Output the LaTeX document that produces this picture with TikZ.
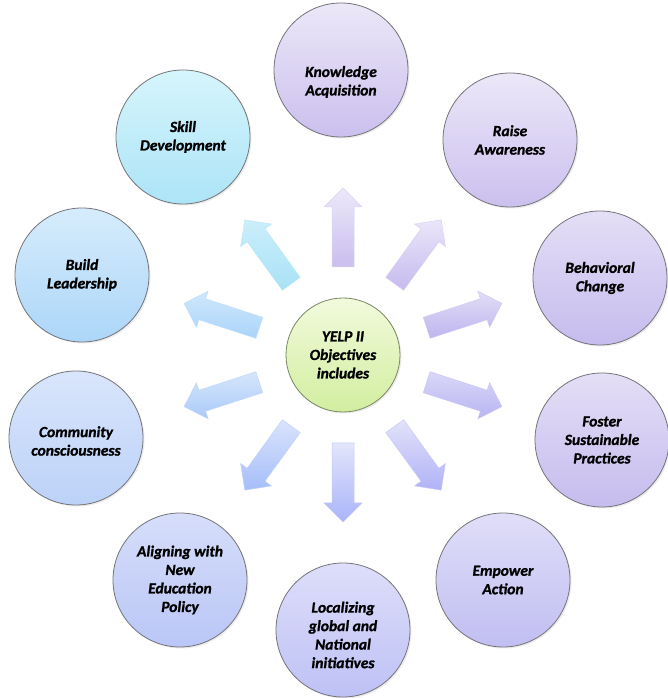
\documentclass[tikz,border=0pt]{standalone}
\usepackage{fontspec}
\newfontfamily\carlito{Carlito}[BoldItalicFont={Carlito Bold Italic}, BoldFont={Carlito Bold}, BoldItalicFeatures={FakeBold=1.2}]
\usetikzlibrary{calc,shadows}
\definecolor{bordergray}{RGB}{115,115,120}
\definecolor{lavT}{RGB}{236,231,248}
\definecolor{lavB}{RGB}{203,192,238}
\definecolor{lav2T}{RGB}{228,222,246}
\definecolor{lav2B}{RGB}{198,188,238}
\definecolor{lav3T}{RGB}{224,222,248}
\definecolor{lav3B}{RGB}{193,190,242}
\definecolor{locT}{RGB}{222,222,250}
\definecolor{locB}{RGB}{190,193,245}
\definecolor{aliT}{RGB}{214,222,250}
\definecolor{aliB}{RGB}{186,198,246}
\definecolor{comT}{RGB}{217,229,251}
\definecolor{comB}{RGB}{188,210,248}
\definecolor{bldT}{RGB}{214,236,252}
\definecolor{bldB}{RGB}{172,214,248}
\definecolor{sklT}{RGB}{214,245,252}
\definecolor{sklB}{RGB}{172,228,247}
\definecolor{ctrT}{RGB}{242,250,220}
\definecolor{ctrB}{RGB}{210,238,160}
\definecolor{ctrBorder}{RGB}{120,135,100}
% arrow colours
\definecolor{aKaT}{RGB}{236,232,249}\definecolor{aKaB}{RGB}{202,190,238}
\definecolor{aRaT}{RGB}{234,230,249}\definecolor{aRaB}{RGB}{198,186,238}
\definecolor{aBcT}{RGB}{226,222,247}\definecolor{aBcB}{RGB}{190,180,238}
\definecolor{aFsT}{RGB}{218,216,248}\definecolor{aFsB}{RGB}{184,180,242}
\definecolor{aEaT}{RGB}{226,226,250}\definecolor{aEaB}{RGB}{176,178,246}
\definecolor{aLoT}{RGB}{226,229,251}\definecolor{aLoB}{RGB}{170,180,250}
\definecolor{aAlT}{RGB}{218,227,251}\definecolor{aAlB}{RGB}{165,190,250}
\definecolor{aCoT}{RGB}{214,230,251}\definecolor{aCoB}{RGB}{170,202,250}
\definecolor{aBlT}{RGB}{208,232,252}\definecolor{aBlB}{RGB}{170,212,250}
\definecolor{aSkT}{RGB}{204,238,251}\definecolor{aSkB}{RGB}{168,226,246}
\tikzset{
  labelfont/.style={font=\carlito\bfseries\itshape\fontsize{15.5}{18.5}\selectfont},
  outer/.style={circle, minimum size=134pt, inner sep=0pt, draw=bordergray, line width=0.8pt,
    align=center, labelfont,
    drop shadow={opacity=0.15, shadow xshift=1.5pt, shadow yshift=-1.5pt}},
  centre/.style={circle, minimum size=114pt, inner sep=0pt, draw=ctrBorder, line width=0.8pt,
    align=center, top color=ctrT, bottom color=ctrB, labelfont,
    drop shadow={opacity=0.15, shadow xshift=1.5pt, shadow yshift=-1.5pt}},
  caption/.style={align=center, labelfont, inner sep=0pt}
}
\begin{document}
\begin{tikzpicture}[x=1pt,y=1pt]
\useasboundingbox[fill=white] (0,0) rectangle (667,698);
\node[centre] (c) at (343,343) {YELP II\\Objectives\\includes};
\node[outer, top color=lavT, bottom color=lavB] (ka) at (341,628) {};
\node[caption] (kat) at (341,616) {Knowledge\\Acquisition};
\node[outer, top color=lavT, bottom color=lavB] (ra) at (510,558) {Raise\\Awareness};
\node[outer, top color=lav2T, bottom color=lav2B] (bc) at (600,420) {Behavioral\\Change};
\node[outer, top color=lav2T, bottom color=lav2B] (fs) at (602,258) {Foster\\Sustainable\\Practices};
\node[outer, top color=lav3T, bottom color=lav3B] (ea) at (503,118) {Empower\\Action};
\node[outer, top color=locT, bottom color=locB] (lo) at (343,68) {};
\node[caption] (lot) at (343,63) {Localizing\\global and\\National\\initiatives};
\node[outer, top color=aliT, bottom color=aliB] (al) at (180,118) {Aligning with\\New\\Education\\Policy};
\node[outer, top color=comT, bottom color=comB] (co) at (76,260) {};
\node[caption] (cot) at (76,257) {Community\\consciousness};
\node[outer, top color=bldT, bottom color=bldB] (bl) at (82,423) {Build\\Leadership};
\node[outer, top color=sklT, bottom color=sklB] (sk) at (183,561) {Skill\\Development};
\foreach \a/\ct/\cb in {90/aKaT/aKaB, 54/aRaT/aRaB, 18/aBcT/aBcB, -18/aFsT/aFsB, -54/aEaT/aEaB,
    -90/aLoT/aLoB, -126/aAlT/aAlB, -162/aCoT/aCoB, 162/aBlT/aBlB, 126/aSkT/aSkB}{
  \path[top color=\ct, bottom color=\cb, draw=\cb!50!\ct, line width=0.5pt, line join=miter]
    ($(c.center)+(\a:88)+(\a+90:11)$) -- ($(c.center)+(\a:148)+(\a+90:11)$)
    -- ($(c.center)+(\a:148)+(\a+90:19)$) -- ($(c.center)+(\a:167)$)
    -- ($(c.center)+(\a:148)+(\a-90:19)$) -- ($(c.center)+(\a:148)+(\a-90:11)$)
    -- ($(c.center)+(\a:88)+(\a-90:11)$) -- cycle;
}
\end{tikzpicture}
\end{document}
